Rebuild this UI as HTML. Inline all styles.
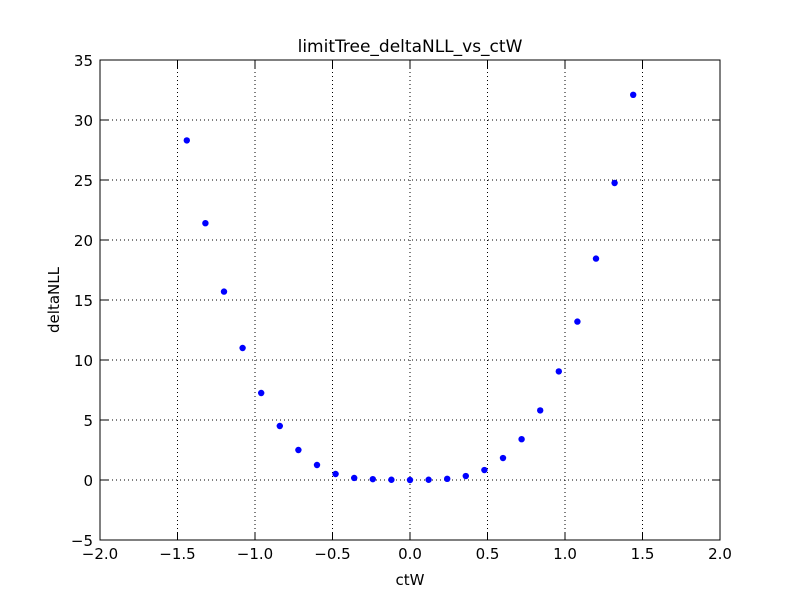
<!DOCTYPE html>
<html><head><meta charset="utf-8"><style>
body{margin:0;background:#fff;}
svg text{font-family:"DejaVu Sans","Liberation Sans",sans-serif;}
</style></head><body>
<svg id="chart" width="800" height="600" xmlns="http://www.w3.org/2000/svg">
<rect width="800" height="600" fill="#fff"/>
<g id="grid"></g>
<g id="ticks"></g>
<g id="points"></g>
<rect x="100" y="60" width="620" height="480" fill="none" stroke="#000" stroke-width="1"/>
<text x="410" y="52" font-size="17" text-anchor="middle">limitTree_deltaNLL_vs_ctW</text>
<text x="410" y="585" font-size="15" text-anchor="middle">ctW</text>
<text x="59" y="300" font-size="15" text-anchor="middle" transform="rotate(-90 59 300)">deltaNLL</text>
</svg>
<script>
const xs=[-1.44,-1.32,-1.2,-1.08,-0.96,-0.84,-0.72,-0.6,-0.48,-0.36,-0.24,-0.12,0,0.12,0.24,0.36,0.48,0.6,0.72,0.84,0.96,1.08,1.2,1.32,1.44];
const ys=[28.3,21.4,15.7,11.0,7.25,4.5,2.5,1.25,0.5,0.17,0.07,0.02,0,0.02,0.1,0.33,0.83,1.83,3.4,5.8,9.05,13.2,18.45,24.75,32.1];
const xTicks=[-2,-1.5,-1,-0.5,0,0.5,1,1.5,2];
const yTicks=[-5,0,5,10,15,20,25,30,35];
const xTickLabels=["\u22122.0","\u22121.5","\u22121.0","\u22120.5","0.0","0.5","1.0","1.5","2.0"];
const yTickLabels=["\u22125","0","5","10","15","20","25","30","35"];
const NS="http://www.w3.org/2000/svg";
const X=v=>100+(v+2)/4*620;
const Y=v=>540-(v+5)/40*480;
const grid=document.getElementById('grid'),ticks=document.getElementById('ticks'),pts=document.getElementById('points');
function mk(tag,attrs,parent){const e=document.createElementNS(NS,tag);for(const k in attrs)e.setAttribute(k,attrs[k]);parent.appendChild(e);return e;}
xTicks.forEach((t,i)=>{
  const x=X(t);
  const g=mk('line',{x1:x,x2:x,y1:60,y2:540,stroke:'#000','stroke-dasharray':'1,3','stroke-width':1},grid);
  
  
  mk('line',{x1:x,x2:x,y1:540,y2:532,stroke:'#000'},ticks);
  mk('line',{x1:x,x2:x,y1:60,y2:68,stroke:'#000'},ticks);
  const tx=mk('text',{x:x,y:559,'font-size':15,'text-anchor':'middle'},ticks);
  tx.textContent=xTickLabels[i];
  
  
});
yTicks.forEach((t,i)=>{
  const y=Y(t);
  const g=mk('line',{x1:100,x2:720,y1:y,y2:y,stroke:'#000','stroke-dasharray':'1,3','stroke-width':1},grid);
  
  
  mk('line',{x1:100,x2:108,y1:y,y2:y,stroke:'#000'},ticks);
  mk('line',{x1:712,x2:720,y1:y,y2:y,stroke:'#000'},ticks);
  const tx=mk('text',{x:93,y:y+6,'font-size':15,'text-anchor':'end'},ticks);
  tx.textContent=yTickLabels[i];
  
  
});
xs.forEach((v,i)=>{
  const c=mk('circle',{cx:X(v),cy:Y(ys[i]),r:3.2,fill:'#0000ff'},pts);
  
  
});
</script>
</body></html>
